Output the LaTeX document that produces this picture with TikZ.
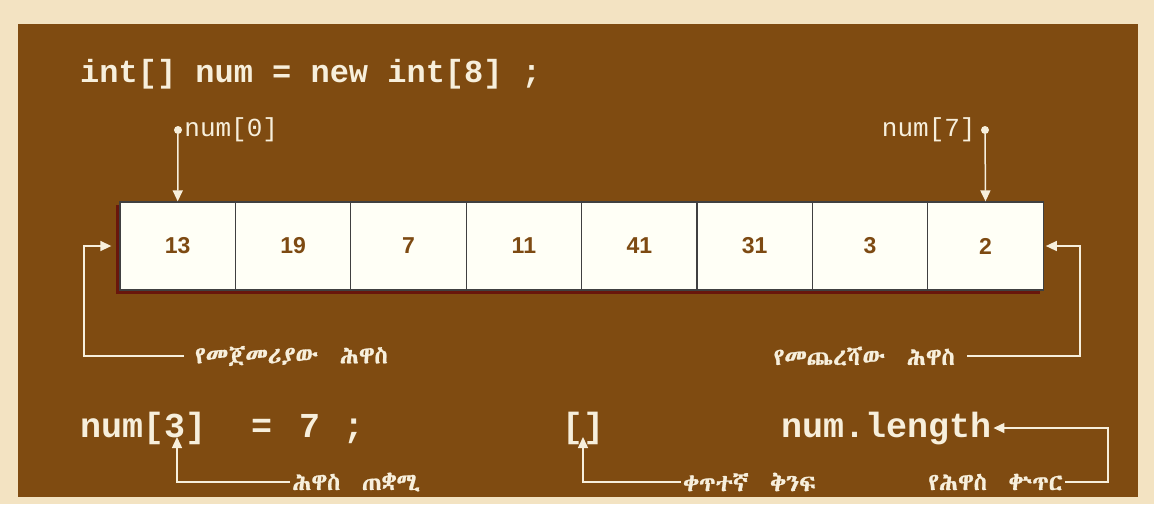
\documentclass[tikz,border=0pt]{standalone}
\usepackage{fontspec}
\setmonofont{Liberation Mono}
\newfontfamily\numfont{Liberation Sans}
\IfFontExistsTF{Abyssinica SIL}{\newfontfamily\ethfont[FakeBold=1]{Abyssinica SIL}}{%
  \IfFontExistsTF{FreeSerif}{\newfontfamily\ethfont[FakeBold=1]{FreeSerif}}{%
    \IfFontExistsTF{FreeSerif.otf}{\newfontfamily\ethfont[FakeBold=1]{FreeSerif.otf}}{%
      \newfontfamily\ethfont{DejaVu Sans}}}}
\usetikzlibrary{arrows.meta,calc,positioning}

\definecolor{panelbrown}{RGB}{127,75,17}
\definecolor{cream}{RGB}{247,239,220}
\definecolor{outerbg}{RGB}{243,227,194}
\definecolor{cellfill}{RGB}{255,255,246}
\definecolor{cellnum}{RGB}{125,74,18}
\definecolor{shadowred}{RGB}{105,22,12}

\begin{document}
\begin{tikzpicture}[
    x=1pt,y=-1pt,
    >={Triangle[length=11pt,width=10pt]},
    code/.style={
        text=cream,
        inner sep=0pt,
        font=\ttfamily\bfseries\fontsize{32}{32}\selectfont
    },
    bigcode/.style={code, font=\ttfamily\bfseries\fontsize{35}{35}\selectfont},
    idx/.style={
        text=cream,
        inner sep=1pt,
        font=\ttfamily\fontsize{26}{26}\selectfont
    },
    ethlbl/.style={
        text=cream,
        inner sep=0pt,
        font=\ethfont\fontsize{24}{24}\selectfont
    },
    cell/.style={
        draw=black!75,
        line width=1.3pt,
        fill=cellfill,
        minimum width=115.4pt,
        minimum height=88pt,
        inner sep=0pt,
        text=cellnum,
        font=\numfont\bfseries\fontsize{23}{23}\selectfont
    },
    flow/.style={->, draw=cream, line width=1.5pt},
    dot/.style={circle, fill=cream, inner sep=0pt, minimum size=8pt}
]

% -----------------------------------------------------------------------------
% Background and panel
% -----------------------------------------------------------------------------
\fill[outerbg] (0,0) rectangle (1154,504);
\fill[panelbrown] (18,24) rectangle (1138,497);
\useasboundingbox (0,0) rectangle (1154,504);

\node[code, anchor=base west] (decl) at (80,82) {int[] num = new int[8] ;};

% -----------------------------------------------------------------------------
% Array cells
% -----------------------------------------------------------------------------
\fill[shadowred] (116,205) rectangle (1040,294);
\foreach \v [count=\i from 0] in {13,19,7,11,41,31,3,2} {
    \node[cell] (c\i) at (177.7+115.4*\i,246) {\v};
}

\node[dot] (d0) at (178,130) {};
\node[idx, right=1pt of d0] (i0) {num[0]};
\node[dot] (d7) at (985,130) {};
\node[idx, left=4pt of d7] (i7) {num[7]};
\draw[flow] (d0) -- (c0.north);
\draw[flow] (d7) -- (c7.north);

\node[ethlbl, anchor=west] (first) at (195,356) {የመጀመሪያው\ \ ሕዋስ};
\coordinate (firstturn) at (84,300);
\draw[flow, shorten <=11pt, shorten >=8pt] (first.west) -| (firstturn) |- (c0.west);

\node[ethlbl, anchor=east] (last) at (955,356) {የመጨረሻው\ \ ሕዋስ};
\coordinate (lastturn) at (1080,300);
\draw[flow, shorten <=12pt, shorten >=2pt] (last.east) -| (lastturn) |- (c7.east);

% -----------------------------------------------------------------------------
% Element access, brackets and length
% -----------------------------------------------------------------------------
\node[bigcode, anchor=base west] (asg) at (80,437)
    {num[3]\hspace{45pt}=\hspace{27pt}7\hspace{23pt};};
\coordinate (three) at (177,437);
\node[ethlbl, anchor=west] (ptrlbl) at (292,482) {ሕዋስ\ \ ጠቋሚ};
\draw[flow, shorten <=2pt] (ptrlbl.west) -| (three);

\node[bigcode, anchor=base] (brk) at (583,437) {[]};
\node[ethlbl, anchor=west] (brklbl) at (683,482) {ቀጥተኛ\ \ ቅንፍ};
\draw[flow, shorten <=2pt] (brklbl.west) -| (brk.base);

\node[bigcode, anchor=base west] (len) at (781,437) {num.length};
\node[ethlbl, anchor=east] (lenlbl) at (1063,482) {የሕዋስ\ \ ቍጥር};
\coordinate (lenturn) at (1108,460);
\draw[flow, shorten <=2pt, shorten >=2pt] (lenlbl.east) -| (lenturn) |- (len.east);

\end{tikzpicture}
\end{document}
